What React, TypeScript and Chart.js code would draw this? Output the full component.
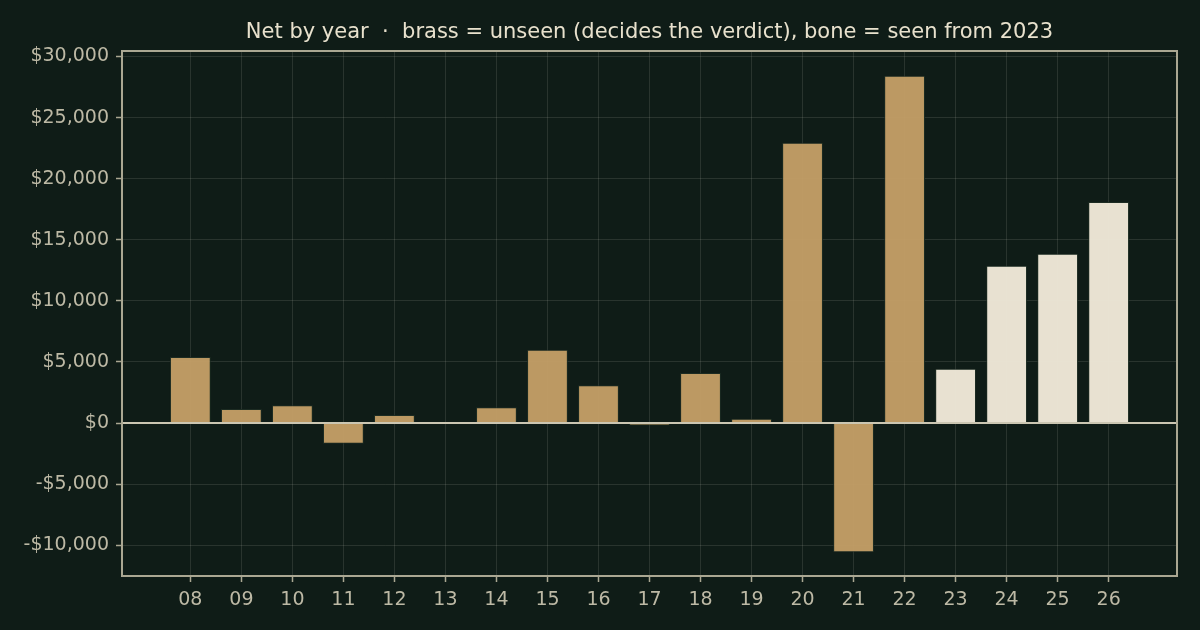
import React, { useEffect, useRef } from "react";
import { Chart, registerables } from "chart.js";

Chart.register(...registerables);

const years = [8, 9, 10, 11, 12, 13, 14, 15, 16, 17, 18, 19, 20, 21, 22, 23, 24, 25, 26];
const yearLabels = ["08", "09", "10", "11", "12", "13", "14", "15", "16", "17", "18", "19", "20", "21", "22", "23", "24", "25", "26"];
const netValues = [5400, 1150, 1450, -1700, 650, 0, 1300, 6000, 3100, -200, 4100, 350, 22950, -10580, 28420, 4450, 12870, 13850, 18100];
const seenFromYear = 23;
const yTicks = [-10000, -5000, 0, 5000, 10000, 15000, 20000, 25000, 30000];
const titleText = "Net by year  \u00b7  brass = unseen (decides the verdict), bone = seen from 2023";

const BG = "#0f1c17";
const BRASS = "rgba(194,158,102,0.97)";
const BONE = "rgba(237,229,213,0.98)";
const FRAME = "#aaa792";
const TICKTXT = "#bdb9a5";
const TITLE = "#e8e1cd";
const GRID = "rgba(220,220,200,0.13)";
const FONT = "'DejaVu Sans', sans-serif";

function fmtMoney(v: number): string {
  const a = Math.abs(v).toLocaleString("en-US");
  return (v < 0 ? "-$" : "$") + a;
}

export default function App() {
  const ref = useRef<HTMLCanvasElement | null>(null);
  useEffect(() => {
    document.body.style.margin = "0";
    document.body.style.background = BG;
    const canvas = ref.current;
    if (!canvas) return;
    const framePlugin = {
      id: "framePlugin",
      beforeDraw(chart: any) {
        const ctx = chart.ctx;
        ctx.save();
        ctx.fillStyle = BG;
        ctx.fillRect(0, 0, chart.width, chart.height);
        ctx.restore();
      },
      afterDatasetsDraw(chart: any) {
        const ctx = chart.ctx;
        const a = chart.chartArea;
        const y0 = chart.scales.y.getPixelForValue(0);
        ctx.save();
        ctx.strokeStyle = "#cbc6b2";
        ctx.lineWidth = 2;
        ctx.beginPath();
        ctx.moveTo(a.left, y0);
        ctx.lineTo(a.right, y0);
        ctx.stroke();
        ctx.strokeStyle = FRAME;
        ctx.lineWidth = 2;
        ctx.strokeRect(a.left, a.top, a.right - a.left, a.bottom - a.top);
        ctx.fillStyle = TITLE;
        ctx.font = "21px " + FONT;
        ctx.textAlign = "center";
        ctx.textBaseline = "alphabetic";
        ctx.fillText(titleText, (a.left + a.right) / 2, 38);
        ctx.restore();
      },
    };
    const chart = new Chart(canvas, {
      type: "bar",
      data: {
        datasets: [
          {
            data: years.map((x, i) => ({ x, y: netValues[i] })),
            backgroundColor: years.map((x) => (x >= seenFromYear ? BONE : BRASS)),
            borderColor: "rgba(30,45,35,0.9)",
            borderWidth: 1,
            barPercentage: 0.8,
            categoryPercentage: 1,
          },
        ],
      },
      options: {
        animation: false,
        responsive: false,
        devicePixelRatio: 1,
        layout: { padding: { left: 0, right: 23, top: 51, bottom: 0 } },
        plugins: { legend: { display: false }, title: { display: false }, tooltip: { enabled: false } },
        scales: {
          x: {
            type: "linear",
            min: 6.66,
            max: 27.34,
            offset: false,
            afterBuildTicks: (s: any) => {
              s.ticks = years.map((v) => ({ value: v }));
            },
            afterFit: (s: any) => {
              s.height = 54;
            },
            grid: { color: GRID, offset: false, tickLength: 6, tickColor: FRAME, tickWidth: 1.5 },
            border: { display: false },
            ticks: {
              color: TICKTXT,
              font: { family: FONT, size: 19 },
              padding: 7,
              maxRotation: 0,
              autoSkip: false,
              callback: (v: any) => {
                const i = years.indexOf(Number(v));
                return i >= 0 ? yearLabels[i] : "";
              },
            },
          },
          y: {
            min: -12520,
            max: 30450,
            afterBuildTicks: (s: any) => {
              s.ticks = yTicks.map((v) => ({ value: v }));
            },
            afterFit: (s: any) => {
              s.width = 122;
            },
            grid: { color: GRID, tickLength: 6, tickColor: FRAME, tickWidth: 1.5 },
            border: { display: false },
            ticks: {
              color: TICKTXT,
              font: { family: FONT, size: 19 },
              padding: 7,
              callback: (v: any) => fmtMoney(Number(v)),
            },
          },
        },
      },
      plugins: [framePlugin],
    } as any);
    return () => chart.destroy();
  }, []);
  return (
    <div style={{ position: "absolute", left: 0, top: 0, width: 1200, height: 630, background: BG }}>
      <canvas ref={ref} width={1200} height={630} style={{ display: "block", width: 1200, height: 630 }} />
    </div>
  );
}
